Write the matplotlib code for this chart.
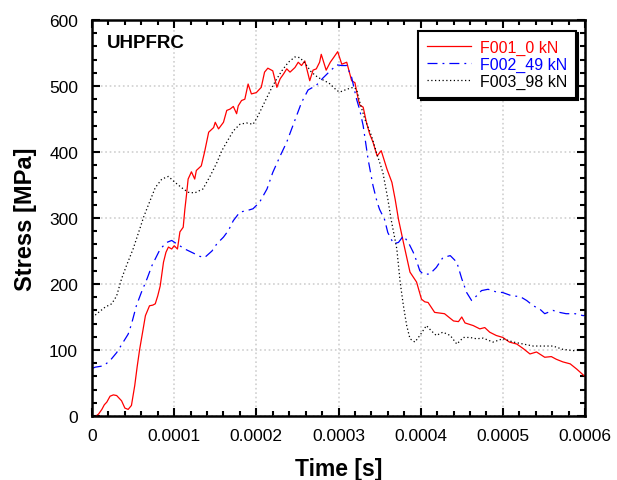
import matplotlib
matplotlib.use("Agg")
import matplotlib.pyplot as plt
from matplotlib.ticker import MultipleLocator, FuncFormatter

plt.rcParams['font.family'] = ['Liberation Sans', 'DejaVu Sans']

# --- data (time in microseconds, stress in MPa) ---
f001_t = [5, 8, 12, 15, 18, 22, 26, 30, 33, 36, 40, 44, 48, 52, 55, 58, 62, 65, 70, 74,
          77, 80, 83, 87, 90, 93, 97, 100, 104, 107, 111, 113, 115, 117, 121, 125, 127, 133,
          137, 142, 148, 150, 154, 160, 164, 168, 172, 176, 178, 182, 186, 190, 194, 200,
          206, 210, 214, 220, 225, 229, 233, 237, 241, 247, 251, 255, 259, 265, 269, 273,
          277, 279, 285, 290, 294, 299, 304, 310, 316, 320, 324, 326, 330, 334, 338, 342,
          347, 352, 359, 365, 369, 373, 379, 387, 395, 401, 405, 409, 417, 429, 440, 446,
          450, 454, 464, 472, 478, 484, 492, 500, 508, 517, 525, 533, 541, 551, 559, 565,
          573, 582, 590, 598, 600]
f001_s = [0, 3, 10, 17, 21, 30, 32, 31, 27, 23, 12, 10, 16, 46, 75, 101, 130, 152, 167, 168,
          170, 182, 197, 233, 248, 256, 253, 258, 253, 279, 286, 313, 335, 359, 370, 359, 372,
          379, 400, 430, 437, 445, 435, 445, 463, 465, 469, 458, 470, 478, 480, 503, 488, 490,
          498, 521, 527, 523, 498, 511, 518, 526, 521, 528, 536, 531, 538, 508, 524, 526,
          536, 548, 524, 536, 543, 552, 533, 536, 508, 505, 480, 471, 468, 445, 427, 415,
          394, 402, 374, 354, 328, 298, 263, 218, 203, 177, 173, 172, 157, 155, 144, 143,
          150, 141, 137, 132, 134, 127, 122, 119, 112, 109, 102, 94, 97, 89, 90, 86,
          82, 79, 71, 62, 60]

f002_t = [0, 4, 14, 22, 30, 38, 44, 48, 54, 60, 67, 73, 79, 83, 91, 97, 103, 113, 123, 131,
          137, 146, 152, 160, 166, 172, 180, 188, 196, 200, 204, 213, 220, 229, 237, 243, 249,
          255, 263, 273, 281, 290, 298, 304, 310, 316, 322, 326, 330, 336, 342, 347, 350, 356,
          360, 367, 373, 379, 385, 391, 395, 399, 403, 411, 419, 427, 436, 444, 450, 456, 462,
          468, 474, 482, 492, 500, 511, 521, 529, 537, 545, 551, 561, 569, 577, 588, 598, 600]
f002_s = [72, 74, 76, 84, 96, 112, 124, 139, 167, 187, 208, 228, 243, 253, 263, 266, 261, 253,
          247, 242, 240, 250, 261, 271, 281, 296, 309, 311, 314, 319, 324, 344, 369, 394, 415,
          435, 455, 475, 494, 501, 512, 523, 532, 531, 531, 513, 480, 463, 440, 389, 349, 324,
          313, 298, 278, 261, 263, 273, 263, 248, 235, 220, 215, 215, 225, 240, 243, 233, 208,
          187, 175, 182, 190, 192, 188, 187, 182, 181, 175, 167, 162, 155, 160, 157, 155, 155,
          152, 153]

f003_t = [0, 3, 8, 16, 24, 30, 36, 42, 50, 58, 63, 69, 77, 85, 93, 101, 109, 117, 125, 135,
          144, 152, 158, 164, 172, 180, 188, 196, 200, 206, 213, 219, 225, 231, 239, 247, 253,
          259, 267, 275, 283, 290, 298, 302, 310, 318, 322, 326, 332, 340, 346, 354, 360, 364,
          371, 375, 379, 383, 387, 393, 399, 407, 413, 419, 427, 436, 444, 452, 460, 468, 476,
          488, 500, 513, 525, 537, 549, 561, 573, 586, 598, 600]
f003_s = [150, 152, 157, 165, 170, 182, 208, 228, 253, 283, 302, 321, 346, 359, 363, 354, 346,
          339, 338, 344, 364, 384, 402, 415, 432, 442, 444, 442, 450, 465, 483, 498, 511, 523,
          536, 544, 543, 535, 521, 513, 508, 503, 493, 491, 495, 498, 495, 475, 450, 425, 400,
          369, 329, 298, 253, 203, 167, 137, 117, 112, 122, 137, 129, 122, 127, 122, 109, 119,
          119, 117, 118, 112, 117, 112, 109, 106, 106, 106, 101, 99, 101, 100]

labels = ['F001_0 kN', 'F002_49 kN', 'F003_98 kN']


def to_seconds(t_us):
    return [t * 1e-6 for t in t_us]


fig = plt.figure(figsize=(6.17, 4.81), dpi=100)
ax = fig.add_axes([92 / 617, 64 / 481, 493 / 617, 396 / 481])

ax.plot(to_seconds(f001_t), f001_s, color='#ff0000', lw=0.9, ls='-', label=labels[0])
ax.plot(to_seconds(f002_t), f002_s, color='#0000ff', lw=0.9, ls=(0, (8, 4, 1.5, 4)), label=labels[1])
ax.plot(to_seconds(f003_t), f003_s, color='black', lw=0.9, ls=(0, (1, 2)), label=labels[2])

ax.set_xlim(0, 0.0006)
ax.set_ylim(0, 600)
ax.xaxis.set_major_locator(MultipleLocator(0.0001))
ax.xaxis.set_minor_locator(MultipleLocator(0.00002))
ax.yaxis.set_major_locator(MultipleLocator(100))
ax.yaxis.set_minor_locator(MultipleLocator(20))
ax.xaxis.set_major_formatter(FuncFormatter(lambda v, p: '0' if abs(v) < 1e-12 else f'{v:.4f}'))

ax.grid(True, which='major', color='#d0d0d0', ls=':', lw=1.2)
ax.set_axisbelow(True)

ax.tick_params(which='both', direction='in', top=True, right=True, width=1.5, labelsize=12.5)
ax.tick_params(which='major', length=6)
ax.tick_params(which='minor', length=3.5)
ax.tick_params(axis='x', which='major', pad=9)
ax.tick_params(axis='y', which='major', pad=10)
for sp in ax.spines.values():
    sp.set_linewidth(1.8)

# the reference crops the bottom of this label slightly; keep it just inside
ax.set_xlabel('Time [s]', fontsize=16.5, fontweight='bold', labelpad=10)
ax.set_ylabel('Stress [MPa]', fontsize=17, fontweight='bold', labelpad=9)

ax.text(0.03, 0.965, 'UHPFRC', transform=ax.transAxes, fontsize=13.5, fontweight='bold',
        va='top', ha='left')

leg = ax.legend(loc='upper right', bbox_to_anchor=(0.981, 0.973), borderaxespad=0,
                fontsize=11.5, labelcolor='linecolor', handlelength=2.75, handletextpad=0.56,
                labelspacing=0.12, borderpad=0.55,
                fancybox=False, edgecolor='black', framealpha=1,
                shadow={'color': 'black', 'alpha': 1})
leg.get_frame().set_linewidth(1.5)

fig.savefig('out.png', dpi=100)
